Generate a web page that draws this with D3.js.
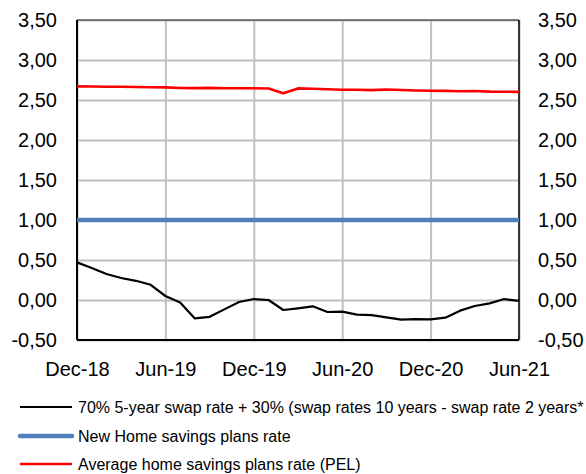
<!DOCTYPE html>
<html>
<head>
<meta charset="utf-8">
<script src="https://cdn.jsdelivr.net/npm/d3@7"></script>
<style>
  body { margin: 0; background: #fff; }
  svg text { font-family: "Liberation Sans", Arial, sans-serif; fill: #000; }
  .grid line { stroke: #c0c0c0; stroke-width: 2px; }
  .grid .domain { display: none; }
</style>
</head>
<body>
<div id="chart"></div>
<script>
// monthly points, Dec-18 .. Jun-21 (index 0 .. 30)
const swapRate = [0.47, 0.40, 0.325, 0.275, 0.24, 0.19, 0.05, -0.03, -0.23, -0.21, -0.117,
  -0.025, 0.012, 0.0, -0.125, -0.104, -0.079, -0.15, -0.146, -0.183, -0.19,
  -0.217, -0.246, -0.24, -0.242, -0.221, -0.133, -0.075, -0.042, 0.012, -0.012];
const newPelRate = [1.00, 1.00, 1.00, 1.00, 1.00, 1.00, 1.00, 1.00, 1.00, 1.00, 1.00,
  1.00, 1.00, 1.00, 1.00, 1.00, 1.00, 1.00, 1.00, 1.00, 1.00,
  1.00, 1.00, 1.00, 1.00, 1.00, 1.00, 1.00, 1.00, 1.00, 1.00];
const avgPelRate = [2.67, 2.668, 2.666, 2.665, 2.662, 2.66, 2.658, 2.65, 2.648, 2.652, 2.646,
  2.646, 2.646, 2.644, 2.585, 2.645, 2.64, 2.635, 2.629, 2.628, 2.623,
  2.632, 2.625, 2.618, 2.615, 2.614, 2.61, 2.612, 2.605, 2.603, 2.602];
const xTickIndex = [0, 6, 12, 18, 24, 30];
const xTickLabels = ["Dec-18", "Jun-19", "Dec-19", "Jun-20", "Dec-20", "Jun-21"];
const yTicks = [-0.5, 0, 0.5, 1, 1.5, 2, 2.5, 3, 3.5];
const seriesNames = [
  "70% 5-year swap rate + 30% (swap rates 10 years - swap rate 2 years*",
  "New Home savings plans rate",
  "Average home savings plans rate (PEL)"
];
const seriesColors = ["#000000", "#4f81bd", "#ff0000"];

const margin = { top: 20, right: 67, bottom: 134, left: 77 };
const width = 586 - margin.left - margin.right;
const height = 474 - margin.top - margin.bottom;

const svg = d3.select("#chart").append("svg")
  .attr("width", 586)
  .attr("height", 474);
const g = svg.append("g")
  .attr("transform", "translate(" + margin.left + "," + margin.top + ")");

const x = d3.scaleLinear().domain([0, 30]).range([0, width]);
const y = d3.scaleLinear().domain([-0.5, 3.5]).range([height, 0]);
const fmt = d => d.toFixed(2).replace(".", ",");

// horizontal grid
g.append("g").attr("class", "grid")
  .call(d3.axisLeft(y).tickValues(yTicks).tickSize(-width).tickFormat(""));
// vertical grid
g.append("g").attr("class", "grid")
  .attr("transform", "translate(0," + height + ")")
  .call(d3.axisBottom(x).tickValues(xTickIndex).tickSize(-height).tickFormat(""));

// frame
g.append("line").attr("x1", 0).attr("x2", width).attr("y1", 0).attr("y2", 0)
  .attr("stroke", "#222").attr("stroke-width", 1.2);
g.append("line").attr("x1", width).attr("x2", width).attr("y1", 0).attr("y2", height)
  .attr("stroke", "#000").attr("stroke-width", 1.5);
g.append("line").attr("x1", 0).attr("x2", width).attr("y1", height).attr("y2", height)
  .attr("stroke", "#000").attr("stroke-width", 2);
g.append("line").attr("x1", 0).attr("x2", 0).attr("y1", 0).attr("y2", height)
  .attr("stroke", "#000").attr("stroke-width", 2);

// y labels, both sides
const leftAxis = d3.axisLeft(y).tickValues(yTicks).tickSize(0).tickPadding(20).tickFormat(fmt);
const rightAxis = d3.axisRight(y).tickValues(yTicks).tickSize(0).tickPadding(19).tickFormat(fmt);
const la = g.append("g").call(leftAxis);
const ra = g.append("g").attr("transform", "translate(" + width + ",0)").call(rightAxis);
[la, ra].forEach(a => {
  a.select(".domain").remove();
  a.selectAll("text").style("font-size", "20px").attr("fill", "#000")
    .attr("font-family", "Liberation Sans, Arial, sans-serif");
});

// x labels
const xa = g.append("g").attr("transform", "translate(0," + height + ")")
  .call(d3.axisBottom(x).tickValues(xTickIndex).tickSize(0).tickPadding(22)
    .tickFormat((d, i) => xTickLabels[i]));
xa.select(".domain").remove();
xa.selectAll("text").style("font-size", "20px").attr("fill", "#000")
  .attr("font-family", "Liberation Sans, Arial, sans-serif");

// lines
const line = d3.line().x((d, i) => x(i)).y(d => y(d));
const allSeries = [swapRate, newPelRate, avgPelRate];
const widths = [2.2, 4.5, 2.6];
const order = [1, 2, 0];
order.forEach(k => {
  g.append("path")
    .datum(allSeries[k])
    .attr("d", line)
    .attr("fill", "none")
    .attr("stroke", seriesColors[k])
    .attr("stroke-width", widths[k])
    .attr("stroke-linejoin", "round");
});

// legend
const legendY = [407, 436, 464];
const legend = svg.append("g");
seriesNames.forEach((name, i) => {
  legend.append("line")
    .attr("x1", 20).attr("x2", 72)
    .attr("y1", legendY[i]).attr("y2", legendY[i])
    .attr("stroke", seriesColors[i])
    .attr("stroke-width", widths[i])
    .attr("stroke-linecap", i === 1 ? "round" : "butt");
  legend.append("text")
    .attr("x", 78).attr("y", legendY[i]).attr("dy", "0.35em")
    .style("font-size", "16px")
    .text(name);
});
</script>
</body>
</html>
